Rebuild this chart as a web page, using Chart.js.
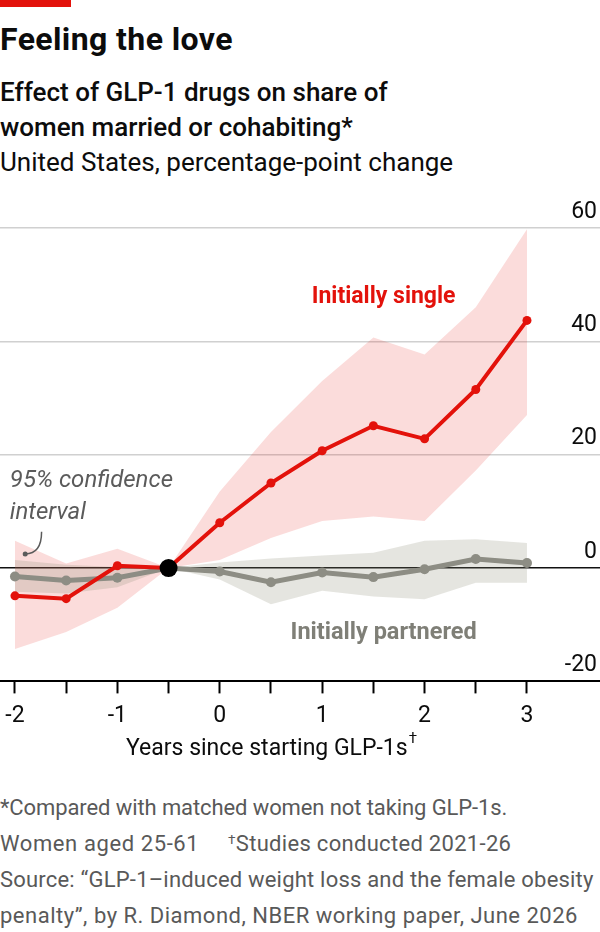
<!DOCTYPE html>
<html>
<head>
<meta charset="utf-8">
<script src="https://cdn.jsdelivr.net/npm/chart.js@4.4.1/dist/chart.umd.min.js"></script>
<style>
  html, body { margin: 0; padding: 0; background: #fff; }
  body { width: 600px; height: 932px; position: relative; overflow: hidden;
         font-family: Roboto, "Noto Sans", sans-serif; color: #0c0c0c; }
  .redbar { position: absolute; left: 0; top: 0; width: 71px; height: 7px; background: #e3120b; }
  h1 { position: absolute; left: 0; top: 24px; margin: 0; font-size: 32px; line-height: 31px; font-weight: 700; letter-spacing: 0.4px; }
  .sub { position: absolute; left: 0; top: 75px; margin: 0; font-size: 26px; line-height: 35px; }
  .sub b { font-weight: 500; }
  #wrap { position: absolute; left: 0; top: 200px; width: 600px; height: 570px; }
  .notes { position: absolute; left: 0; top: 790px; margin: 0; font-size: 22px; line-height: 36px; color: #595959; white-space: nowrap; }
  .notes .gap { display: inline-block; width: 228px; letter-spacing: 0.6px; }
  .notes .l1 { letter-spacing: -0.1px; }
  .notes .l2 { letter-spacing: 0.3px; }
  .notes .l3 { letter-spacing: 0.2px; }
  .notes .l4 { letter-spacing: 0.5px; }
  sup { font-size: 0.62em; vertical-align: 0.5em; line-height: 0; }
</style>
</head>
<body>
<div class="redbar"></div>
<h1>Feeling the love</h1>
<p class="sub"><b>Effect of GLP-1 drugs on share of<br>women married or cohabiting*</b><br>United States, percentage-point change</p>
<div id="wrap"><canvas id="glpChart"></canvas></div>
<p class="notes"><span class="l1">*Compared with matched women not taking GLP-1s.</span><br><span class="gap">Women aged 25-61</span><span class="l2"><sup>†</sup>Studies conducted 2021-26</span><br><span class="l3">Source: “GLP-1–induced weight loss and the female obesity</span><br><span class="l4">penalty”, by R. Diamond, NBER working paper, June 2026</span></p>

<script>
// Data (poin persentase)
const years = [-2, -1.5, -1, -0.5, 0, 0.5, 1, 1.5, 2, 2.5, 3];

const single     = [-4.9, -5.4, 0.4, 0, 8.0, 15.0, 20.7, 25.1, 22.8, 31.5, 43.7];
const singleHigh = [4.8, 0.8, 3.4, 0, 13.5, 24.0, 33.0, 40.7, 37.7, 46.0, 59.8];
const singleLow  = [-14.3, -11.3, -7.0, 0, 1.4, 5.3, 8.3, 9.1, 8.3, 17.2, 27.0];

const partnered     = [-1.5, -2.2, -1.7, 0, -0.6, -2.5, -0.8, -1.6, -0.2, 1.6, 0.9];
const partneredHigh = [1.4, 0.6, 0.2, 0, 1.0, 1.7, 2.2, 2.7, 4.8, 5.1, 4.4];
const partneredLow  = [-4.2, -4.5, -3.4, 0, -2.0, -6.4, -4.0, -5.0, -5.5, -2.6, -2.6];

// titik acuan (tahun -0.5)
const anchorYear = [-0.5];
const anchorValue = [0];

const xTickValues = [-2, -1.5, -1, -0.5, 0, 0.5, 1, 1.5, 2, 2.5, 3];
const yTickValues = [-20, 0, 20, 40, 60];

const RED = '#e3120b';
const RED_BAND = 'rgba(227, 18, 11, 0.15)';
const GRAY = '#8d8d84';
const GRAY_BAND = 'rgba(135, 135, 115, 0.22)';
const GRAY_TEXT = '#7f7f77';
const NOTE = '#5b5b5b';

function toPoints(values) {
    return years.map((yr, i) => ({ x: yr, y: values[i] }));
}

// Label seri, catatan CI dan judul sumbu x
const annotations = {
    id: 'annotations',
    afterDatasetsDraw(chart) {
        const { ctx, chartArea } = chart;
        const x = chart.scales.x;
        const y = chart.scales.y;
        ctx.save();
        ctx.textBaseline = 'middle';

        ctx.font = 'bold 23px Roboto';
        ctx.textAlign = 'center';
        ctx.fillStyle = RED;
        ctx.fillText('Initially single', x.getPixelForValue(1.6), y.getPixelForValue(47.8));
        ctx.fillStyle = GRAY_TEXT;
        ctx.font = 'bold 23.5px Roboto';
        ctx.fillText('Initially partnered', x.getPixelForValue(1.6), y.getPixelForValue(-11.5));

        ctx.font = 'italic 24px Roboto';
        ctx.textAlign = 'left';
        ctx.fillStyle = NOTE;
        ctx.fillText('95% confidence', x.getPixelForValue(-2.05), y.getPixelForValue(15.4));
        ctx.fillText('interval', x.getPixelForValue(-2.05), y.getPixelForValue(9.7));

        const x0 = x.getPixelForValue(-1.74), y0 = y.getPixelForValue(6.4);
        const x1 = x.getPixelForValue(-1.9), y1 = y.getPixelForValue(2.5);
        ctx.strokeStyle = NOTE;
        ctx.lineWidth = 1.5;
        ctx.beginPath();
        ctx.moveTo(x0, y0);
        ctx.quadraticCurveTo(x0, y1, x1, y1);
        ctx.stroke();
        ctx.fillStyle = NOTE;
        ctx.beginPath();
        ctx.arc(x1, y1, 2.5, 0, Math.PI * 2);
        ctx.fill();

        // judul sumbu x, di tengah rentang data
        const main = 'Years since starting GLP-1s';
        ctx.font = '23px Roboto';
        const w1 = ctx.measureText(main).width;
        ctx.font = '15px Roboto';
        const w2 = ctx.measureText('†').width;
        const cx = x.getPixelForValue(0.5);
        const ty = chartArea.bottom + 68;
        ctx.textAlign = 'left';
        ctx.fillStyle = '#0c0c0c';
        ctx.font = '23px Roboto';
        ctx.fillText(main, cx - (w1 + w2) / 2, ty);
        ctx.font = '15px Roboto';
        ctx.fillText('†', cx - (w1 + w2) / 2 + w1 + 1, ty - 10);
        ctx.restore();
    }
};

Chart.defaults.font.family = 'Roboto';
Chart.defaults.color = '#0c0c0c';

const ctx = document.getElementById('glpChart').getContext('2d');
const glpChart = new Chart(ctx, {
    type: 'line',
    data: {
        datasets: [
            { data: anchorYear.map((v, i) => ({ x: v, y: anchorValue[i] })), showLine: false,
              pointRadius: 9, pointBackgroundColor: '#000', pointBorderWidth: 0 },
            { data: toPoints(single), borderColor: RED, borderWidth: 4, pointRadius: 4.5,
              pointBackgroundColor: RED, pointBorderWidth: 0, fill: false },
            { data: toPoints(partnered), borderColor: GRAY, borderWidth: 5, pointRadius: 5,
              pointBackgroundColor: GRAY, pointBorderWidth: 0, fill: false },
            { data: toPoints(partneredHigh), borderWidth: 0, pointRadius: 0,
              backgroundColor: GRAY_BAND, fill: '+1' },
            { data: toPoints(partneredLow), borderWidth: 0, pointRadius: 0, fill: false },
            { data: toPoints(singleHigh), borderWidth: 0, pointRadius: 0,
              backgroundColor: RED_BAND, fill: '+1' },
            { data: toPoints(singleLow), borderWidth: 0, pointRadius: 0, fill: false }
        ]
    },
    options: {
        responsive: true,
        maintainAspectRatio: false,
        animation: false,
        events: [],
        layout: { autoPadding: false, padding: { top: 28, bottom: 31, left: 0, right: 0 } },
        plugins: { legend: { display: false }, tooltip: { enabled: false } },
        scales: {
            x: {
                type: 'linear',
                min: -2.146,
                max: 3.713,
                afterBuildTicks: scale => { scale.ticks = xTickValues.map(v => ({ value: v })); },
                afterFit: scale => { scale.paddingLeft = 0; scale.paddingRight = 0; },
                ticks: {
                    callback: v => Number.isInteger(v) ? String(v) : '',
                    font: { size: 23 },
                    padding: 9,
                    maxRotation: 0,
                    autoSkip: false
                },
                grid: { drawOnChartArea: false, drawTicks: true, tickLength: 12, tickWidth: 2, tickColor: '#000' },
                border: { display: true, color: '#000', width: 2 }
            },
            y: {
                position: 'right',
                min: -20,
                max: 60,
                afterBuildTicks: scale => { scale.ticks = yTickValues.map(v => ({ value: v })); },
                afterFit: scale => { scale.width = 0; scale.paddingTop = 0; scale.paddingBottom = 0; },
                ticks: {
                    mirror: true,
                    padding: -3,
                    labelOffset: -16,
                    font: { size: 23 },
                    callback: v => String(v)
                },
                grid: {
                    drawTicks: false,
                    tickLength: 0,
                    color: c => c.tick.value === 0 ? '#111' : (c.tick.value === -20 ? 'rgba(0,0,0,0)' : '#d0d0d0'),
                    lineWidth: 1.5
                },
                border: { display: false }
            }
        }
    },
    plugins: [annotations]
});
</script>
</body>
</html>
